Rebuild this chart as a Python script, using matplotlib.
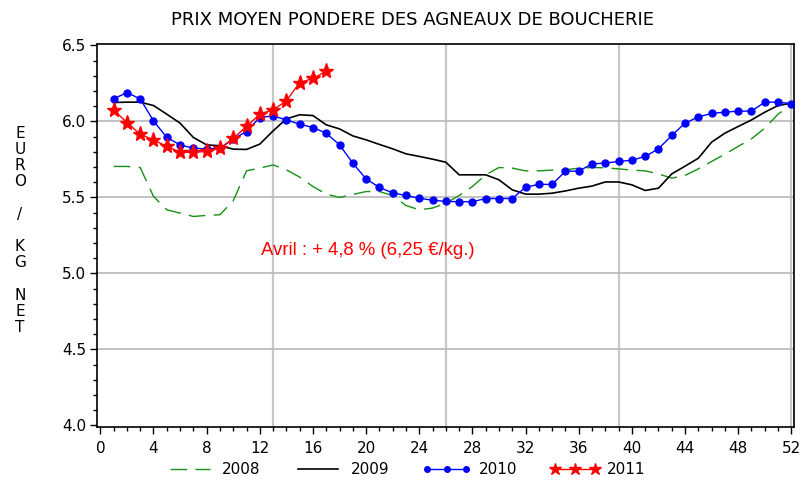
import matplotlib
matplotlib.use("Agg")
import matplotlib.pyplot as plt
from matplotlib.ticker import MultipleLocator
from matplotlib.lines import Line2D

weeks = list(range(1, 53))

y2008 = [5.704, 5.704, 5.697, 5.507, 5.419, 5.397, 5.375, 5.382, 5.386, 5.478,
         5.675, 5.693, 5.714, 5.682, 5.634, 5.572, 5.522, 5.500, 5.520, 5.539,
         5.539, 5.513, 5.447, 5.419, 5.430, 5.462, 5.513, 5.572, 5.649, 5.697,
         5.693, 5.675, 5.675, 5.680, 5.682, 5.693, 5.697, 5.695, 5.688, 5.680,
         5.675, 5.655, 5.627, 5.645, 5.688, 5.737, 5.785, 5.836, 5.886, 5.956,
         6.048, 6.109]

y2009 = [6.125, 6.127, 6.127, 6.105, 6.048, 5.989, 5.895, 5.846, 5.840, 5.818,
         5.816, 5.851, 5.938, 6.017, 6.044, 6.039, 5.978, 5.951, 5.905, 5.879,
         5.849, 5.820, 5.787, 5.770, 5.752, 5.732, 5.649, 5.649, 5.649, 5.616,
         5.550, 5.522, 5.522, 5.528, 5.543, 5.561, 5.575, 5.602, 5.602, 5.583,
         5.546, 5.561, 5.655, 5.706, 5.758, 5.864, 5.923, 5.967, 6.010, 6.061,
         6.105, 6.120]

y2010 = [6.149, 6.190, 6.149, 6.004, 5.895, 5.846, 5.824, 5.820, 5.824, 5.884,
         5.934, 6.026, 6.037, 6.010, 5.982, 5.960, 5.923, 5.846, 5.726, 5.622,
         5.566, 5.530, 5.513, 5.495, 5.482, 5.474, 5.472, 5.472, 5.493, 5.493,
         5.493, 5.568, 5.586, 5.586, 5.673, 5.673, 5.721, 5.726, 5.737, 5.745,
         5.770, 5.820, 5.908, 5.989, 6.030, 6.053, 6.061, 6.068, 6.068, 6.127,
         6.127, 6.118]

weeks2011 = list(range(1, 18))
y2011 = [6.076, 5.993, 5.916, 5.879, 5.836, 5.798, 5.798, 5.803, 5.824, 5.888,
         5.967, 6.048, 6.076, 6.136, 6.256, 6.283, 6.330]

title = "PRIX MOYEN PONDERE DES AGNEAUX DE BOUCHERIE"
ylabel_letters = ["E", "U", "R", "O", "", "/", "", "K", "G", "", "N", "E", "T"]
annotation = "Avril : + 4,8 % (6,25 €/kg.)"

plt.rcParams['font.family'] = ['DejaVu Sans']

fig = plt.figure(figsize=(8.03, 4.83), dpi=100)
ax = fig.add_axes([0.1208, 0.116, 0.868, 0.793])

ax.set_xlim(-0.25, 52.2)
ax.set_ylim(3.99, 6.51)

ax.xaxis.set_major_locator(MultipleLocator(4))
ax.xaxis.set_minor_locator(MultipleLocator(1))
ax.yaxis.set_major_locator(MultipleLocator(0.5))
ax.yaxis.set_minor_locator(MultipleLocator(0.1))
ax.yaxis.set_major_formatter(matplotlib.ticker.FormatStrFormatter('%.1f'))
ax.tick_params(axis='both', which='major', direction='out', length=5, width=1,
               labelsize=11, colors='black')
ax.tick_params(axis='both', which='minor', direction='out', length=3, width=1)
ax.tick_params(axis='x', pad=5)
ax.tick_params(axis='y', pad=3)

for xv in [13, 26, 39, 52]:
    ax.axvline(xv, color='#c8c8c8', lw=1.6, zorder=1)
for yv in [4.5, 5.0, 5.5, 6.0]:
    ax.axhline(yv, color='#b8b8b8', lw=1.2, zorder=1)

ax.plot(weeks, y2008, color='#169016', lw=1.0, dashes=(12, 6), zorder=2)
ax.plot(weeks, y2009, color='black', lw=1.2, zorder=3)
ax.plot(weeks, y2010, color='blue', lw=1.0, marker='o', markersize=5,
        markerfacecolor='blue', markeredgecolor='blue', zorder=4)
ax.plot(weeks2011, y2011, color='red', lw=1.0, marker='*', markersize=11,
        markerfacecolor='red', markeredgecolor='red', zorder=5)

for s in ax.spines.values():
    s.set_linewidth(1.2)

fig.text(0.514, 0.958, title, ha='center', va='center', fontsize=13)

top_y = 133
step = 16.2
for i, ch in enumerate(ylabel_letters):
    if ch:
        fig.text(20 / 803, 1 - (top_y + i * step) / 483, ch, ha='center',
                 va='center', fontsize=11)

ax.text(20.15, 5.15, annotation, color='red', fontsize=13.4, ha='center',
        va='center', family=['Liberation Sans', 'DejaVu Sans'])

handles = [
    Line2D([], [], color='#169016', lw=1.0, dashes=(12, 6)),
    Line2D([], [], color='black', lw=1.2),
    Line2D([], [], color='blue', lw=1.0, marker='o', markersize=4),
    Line2D([], [], color='red', lw=1.0, marker='*', markersize=9),
]
labels = ['2008', '2009', '2010', '2011']
fig.legend(handles, labels, loc='center', bbox_to_anchor=(0.505, 0.027),
           ncol=4, frameon=False, fontsize=11, handlelength=3.2,
           columnspacing=2.16, handletextpad=0.52, numpoints=3)

fig.savefig('out.png', dpi=100)
